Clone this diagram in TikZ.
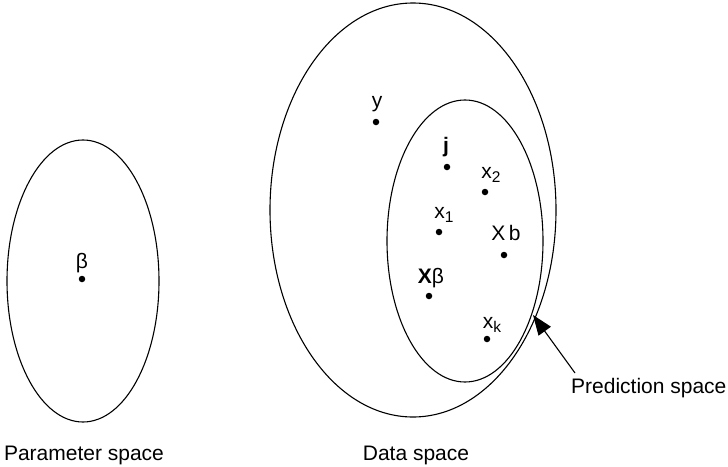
\documentclass[tikz,border=0pt]{standalone}
\usepackage{fontspec}
\setmainfont{Liberation Sans}
\usetikzlibrary{arrows.meta}
\newcommand\subtx[1]{\raisebox{-0.4ex}{\fontsize{15.5}{15.5}\selectfont #1}}
\begin{document}
\begin{tikzpicture}[x=1pt,y=-1pt,
  curve/.style={draw=black,line width=1.1pt},
  pt/.style={circle,fill=black,inner sep=0pt,minimum size=6.5pt},
  lbl/.style={inner sep=0pt,anchor=base,font=\fontsize{21}{23}\selectfont}]
\useasboundingbox (0,0) rectangle (728,466);
% ellipses
\draw[curve] (83,281) ellipse [x radius=76, y radius=141];
\draw[curve] (413,210) ellipse [x radius=143, y radius=207];
\draw[curve] (465,241) ellipse [x radius=78, y radius=141];
% points
\node[pt] (pbeta) at (82,279) {};
\node[lbl] (lbeta) at (82,268) {β};
\node[pt] (py) at (376,122) {};
\node[lbl] (ly) at (377,107) {y};
\node[pt] (pj) at (447,167) {};
\node[lbl] (lj) at (446,152) {\textbf{j}};
\node[pt] (px2) at (485,192) {};
\node[lbl] (lx2) at (491,178) {x\subtx{2}};
\node[pt] (px1) at (439,232) {};
\node[lbl] (lx1) at (444,218) {x\subtx{1}};
\node[pt] (pxb) at (504,255) {};
\node[lbl] (lxb) at (506,240) {X\,b};
\node[pt] (pxbeta) at (429,296) {};
\node[lbl] (lxbeta) at (431,283) {\textbf{X}β};
\node[pt] (pxk) at (487,339) {};
\node[lbl] (lxk) at (492,328) {x\subtx{k}};
% captions
\node[lbl] (cparam) at (84,460) {Parameter space};
\node[lbl] (cdata) at (416,460) {Data space};
\node[lbl,anchor=base west] (cpred) at (571,393) {Prediction space};
% arrow
\coordinate (atip) at (533,315);
\coordinate (astart) at (575,373);
\draw[line width=1.1pt,-{Triangle[length=20pt,width=15pt]}] (astart) -- (atip);
\end{tikzpicture}
\end{document}
